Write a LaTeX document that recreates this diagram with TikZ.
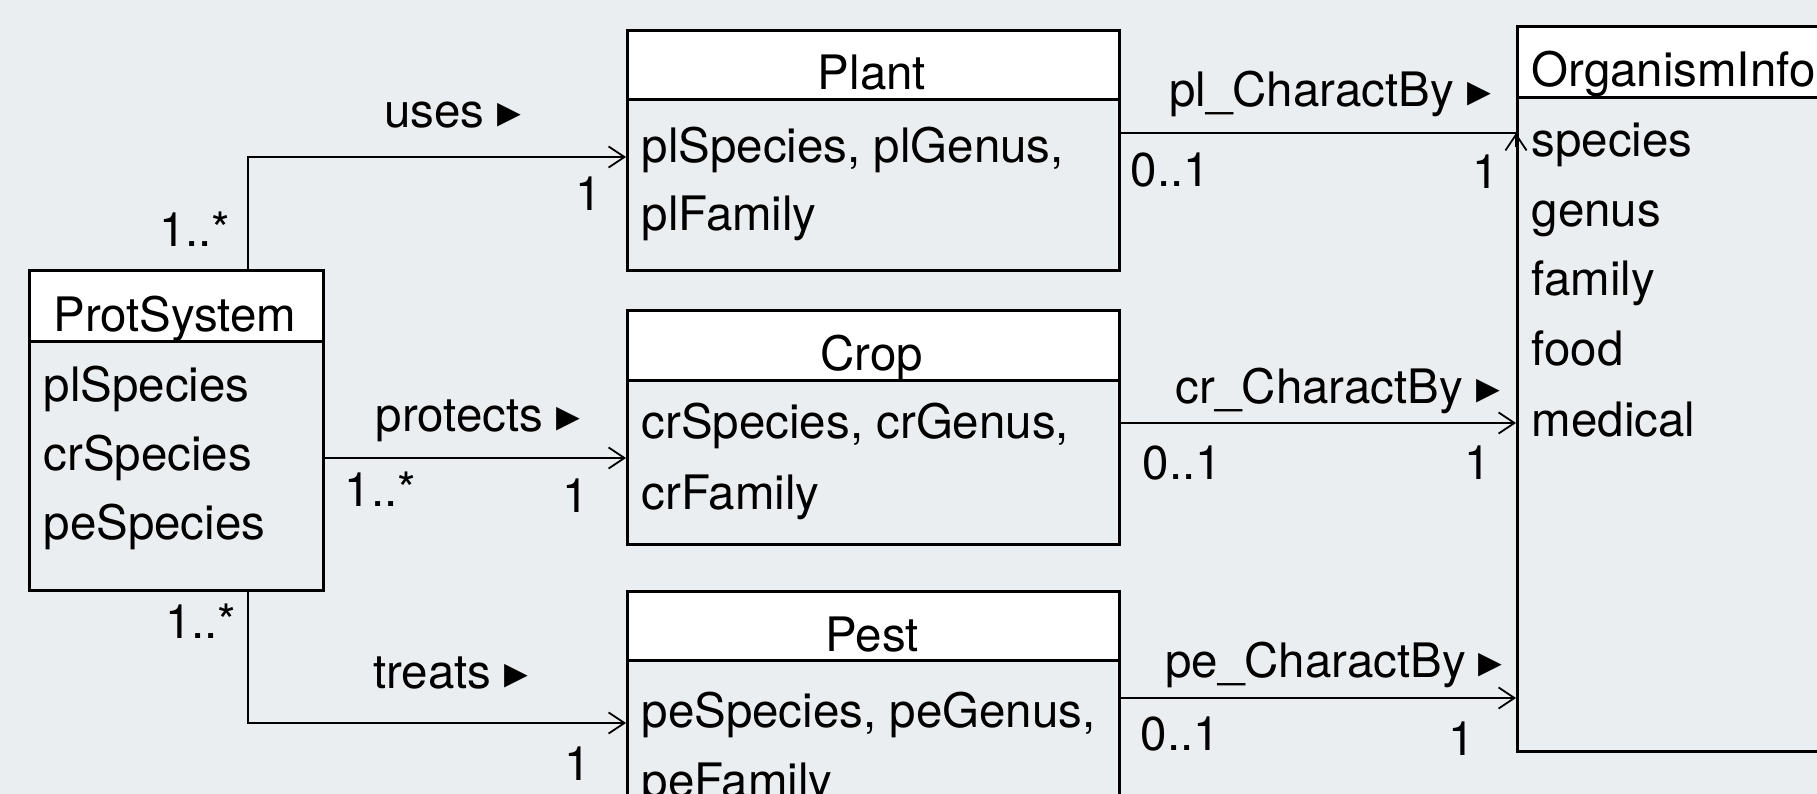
\documentclass[tikz,border=0pt]{standalone}
\usepackage{fontspec}
\setmainfont{TeX Gyre Heros}
\newfontfamily\symfont{DejaVu Sans}
\usetikzlibrary{arrows.meta}
\definecolor{canvas}{HTML}{EBEEF0}
\newcommand{\dirmark}{{\symfont ▸}}
\tikzset{
  bodybox/.style={draw, line width=0.8pt, anchor=north west, inner sep=0pt},
  headbox/.style={draw, fill=white, line width=0.8pt, anchor=north west, inner sep=0pt},
  title/.style={anchor=base, inner sep=0pt},
  attr/.style={anchor=base west, inner sep=0pt},
  mult/.style={inner sep=0pt},
  link/.style={line width=0.6pt},
  assoc/.style={line width=0.6pt, -{Straight Barb[length=4.5pt,width=6pt,line width=0.5pt]}}
}

\begin{document}
\begin{tikzpicture}[x=0.01cm, y=-0.01cm, font=\fontsize{13.5}{19.8}\selectfont]
\useasboundingbox (0,0) rectangle (1817,794);
\fill[canvas] (0,0) rectangle (1817,794);
\clip (0,0) rectangle (1817,794);

% classes
\node[bodybox, minimum width=2.94cm, minimum height=3.20cm] (ps) at (28,269) {};
\node[headbox, minimum width=2.94cm, minimum height=0.71cm] (pshead) at (28,269) {};
\node[title] (pstitle) at (175,332) {ProtSystem};
\node[attr] (ps1) at (43,402) {plSpecies};
\node[attr] (ps2) at (43,471) {crSpecies};
\node[attr] (ps3) at (43,540) {peSpecies};

\node[bodybox, minimum width=4.92cm, minimum height=2.40cm] (plant) at (626,29) {};
\node[headbox, minimum width=4.92cm, minimum height=0.69cm] (planthead) at (626,29) {};
\node[title] (planttitle) at (872,90) {Plant};
\node[attr] (plant1) at (641,163) {plSpecies, plGenus,};
\node[attr] (plant2) at (641,231) {plFamily};

\node[bodybox, minimum width=4.92cm, minimum height=2.34cm] (crop) at (626,309) {};
\node[headbox, minimum width=4.92cm, minimum height=0.70cm] (crophead) at (626,309) {};
\node[title] (croptitle) at (872,371) {Crop};
\node[attr] (crop1) at (641,439) {crSpecies, crGenus,};
\node[attr] (crop2) at (641,509) {crFamily};

\node[bodybox, minimum width=4.92cm, minimum height=3.00cm] (pest) at (626,590) {};
\node[headbox, minimum width=4.92cm, minimum height=0.69cm] (pesthead) at (626,590) {};
\node[title] (pesttitle) at (872,651) {Pest};
\node[attr] (pest1) at (641,727) {peSpecies, peGenus,};
\node[attr] (pest2) at (641,797) {peFamily};

\node[bodybox, minimum width=4.00cm, minimum height=7.25cm] (org) at (1516,25) {};
\node[headbox, minimum width=4.00cm, minimum height=0.71cm] (orghead) at (1516,25) {};
\node[attr] (orgtitle) at (1531,87) {OrganismInfo};
\node[attr] (org1) at (1531,157) {species};
\node[attr] (org2) at (1531,227) {genus};
\node[attr] (org3) at (1531,296) {family};
\node[attr] (org4) at (1531,366) {food};
\node[attr] (org5) at (1531,436) {medical};

% associations
\coordinate (usesy) at (248,157);
\draw[assoc] (ps.north -| usesy) |- (plant.west |- usesy);
\node[title] (useslbl) at (453,128) {uses \dirmark};
\node[mult, anchor=base east] (usesfrom) at (231,247) {1..*};
\node[mult, anchor=base east] (usesto) at (603,211) {1};

\coordinate (protectsy) at (0,458);
\draw[assoc] (ps.east |- protectsy) -- (crop.west |- protectsy);
\node[title] (protectslbl) at (478,432) {protects \dirmark};
\node[mult, anchor=base west] (protectsfrom) at (344,507) {1..*};
\node[mult, anchor=base east] (protectsto) at (590,512) {1};

\coordinate (treatsy) at (248,723);
\draw[assoc] (ps.south -| treatsy) |- (pest.west |- treatsy);
\node[title] (treatslbl) at (451,689) {treats \dirmark};
\node[mult, anchor=base east] (treatsfrom) at (237,639) {1..*};
\node[mult, anchor=base east] (treatsto) at (592,780) {1};

\coordinate (plcy) at (0,133);
\draw[link] (plant.east |- plcy) -- (org.west |- plcy);
\draw[assoc] ([yshift=-4pt]org.west |- plcy) -- (org.west |- plcy);
\node[title] (plclbl) at (1330,107) {pl\_CharactBy \dirmark};
\node[mult, anchor=base west] (plcfrom) at (1130,187) {0..1};
\node[mult, anchor=base east] (plcto) at (1500,189) {1};

\coordinate (crcy) at (0,423);
\draw[assoc] (crop.east |- crcy) -- (org.west |- crcy);
\node[title] (crclbl) at (1338,404) {cr\_CharactBy \dirmark};
\node[mult, anchor=base west] (crcfrom) at (1142,480) {0..1};
\node[mult, anchor=base east] (crcto) at (1492,480) {1};

\coordinate (pecy) at (0,698);
\draw[assoc] (pest.east |- pecy) -- (org.west |- pecy);
\node[title] (peclbl) at (1334,677) {pe\_CharactBy \dirmark};
\node[mult, anchor=base west] (pecfrom) at (1140,750) {0..1};
\node[mult, anchor=base east] (pecto) at (1476,755) {1};
\end{tikzpicture}
\end{document}
